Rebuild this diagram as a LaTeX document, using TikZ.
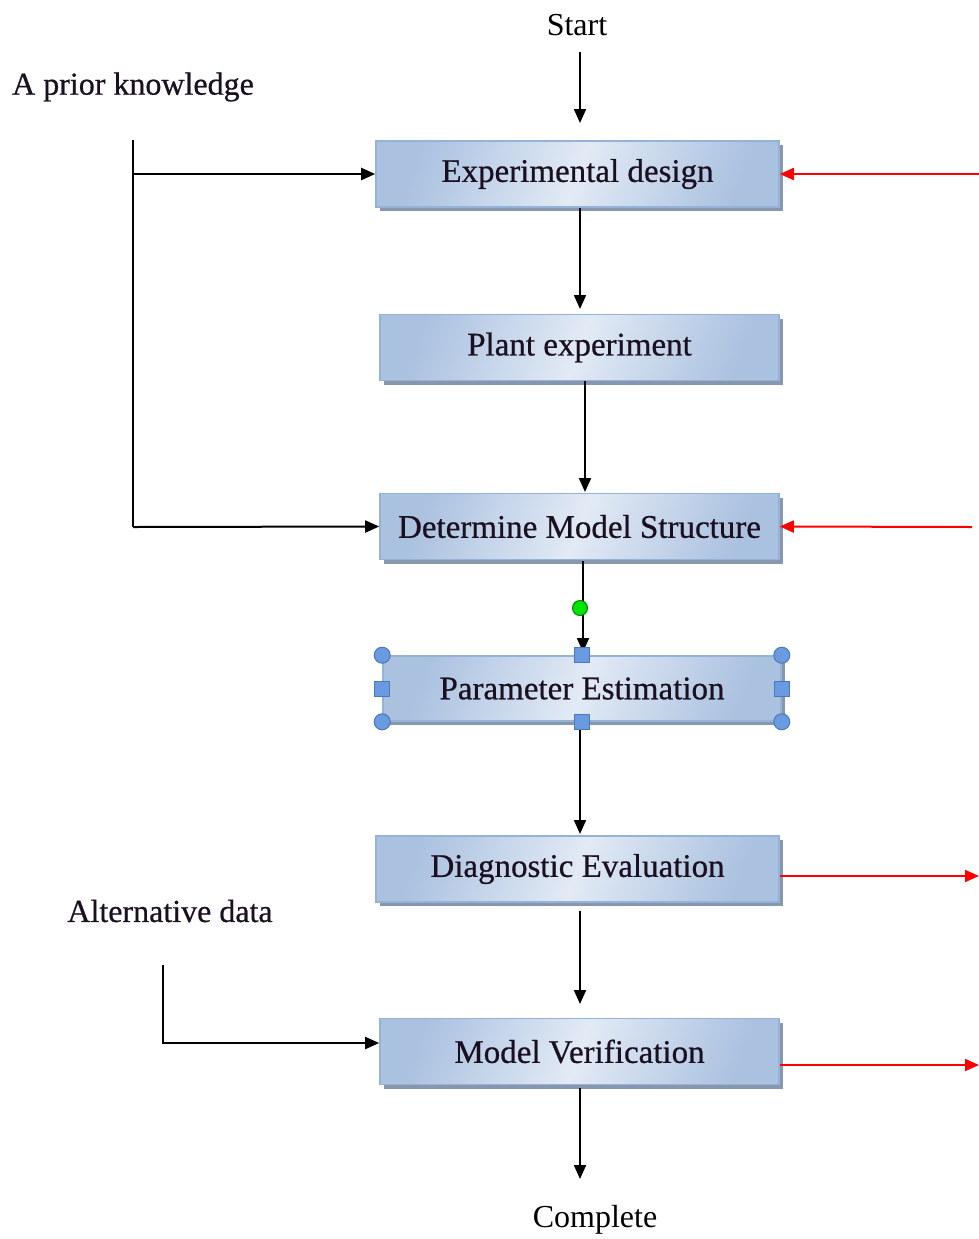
\documentclass[tikz,border=0pt]{standalone}
\usepackage{fontspec}
\setmainfont{Liberation Serif}
\newfontfamily\boxfont[FakeBold=0.6]{Liberation Serif}
\usetikzlibrary{arrows.meta,shadows}
\definecolor{boxedge}{HTML}{95B3D7}
\definecolor{boxdark}{HTML}{AAC1E0}
\definecolor{boxlight}{HTML}{E2EAF5}
\definecolor{shadowc}{HTML}{8797B0}
\definecolor{handle}{HTML}{6A9BE0}
\definecolor{handleedge}{HTML}{4A78B8}
\definecolor{txt}{HTML}{1A1020}
\tikzset{
  stepbox/.style={draw=boxedge, line width=0.8pt, minimum height=33pt,
    top color=boxdark, bottom color=boxdark, middle color=boxlight, shading angle=70,
    drop shadow={shadow xshift=2pt, shadow yshift=-2pt, fill=shadowc, opacity=1},
    font=\boxfont\fontsize{16.5}{18}\selectfont, text=txt, inner sep=0pt},
  lbl/.style={font=\boxfont\fontsize{16}{18}\selectfont, text=txt, inner sep=0pt},
  conn/.style={line width=1pt, -{Triangle[length=7pt,width=6pt]}},
  redconn/.style={line width=1pt, red, -{Triangle[length=7pt,width=6pt]}},
  plain/.style={line width=1pt},
  hcirc/.style={circle, fill=handle, draw=handleedge, line width=0.5pt, minimum size=8pt, inner sep=0pt},
  hsq/.style={rectangle, fill=handle, draw=handleedge, line width=0.5pt, minimum size=7.5pt, inner sep=0pt},
  gcirc/.style={circle, fill=green!90!black, draw=green!50!black, line width=0.5pt, minimum size=7.5pt, inner sep=0pt}
}
\begin{document}
\begin{tikzpicture}[x=0.5pt,y=-0.5pt]
\useasboundingbox (0,0) rectangle (979,1239);
% texts
\node[inner sep=0pt, font=\fontsize{16}{18}\selectfont] (start) at (577,25) {Start};
\node[inner sep=0pt, font=\fontsize{16}{18}\selectfont] (complete) at (595,1220) {Complete};
\node[lbl] (prior) at (133,87) {A prior knowledge};
\node[lbl] (alt) at (170,911) {Alternative data};
% boxes
\node[stepbox, minimum width=201.5pt] (ed) at (577.5,174) {Experimental design};
\node[stepbox, minimum width=199.5pt] (pe) at (579.5,347.5) {Plant experiment};
\node[stepbox, minimum width=199.5pt] (dms) at (579.5,526.5) {Determine Model Structure};
\node[stepbox, minimum width=199pt, minimum height=32.5pt] (par) at (582,688.5) {Parameter Estimation};
\node[stepbox, minimum width=201.5pt] (de) at (577.5,869) {Diagnostic Evaluation};
\node[stepbox, minimum width=199.5pt] (mv) at (579.5,1051.5) {Model Verification};
% coordinates
\coordinate (s0) at (580,52);
\coordinate (s1) at (580,123);
\coordinate (c1) at (580,1179);
\coordinate (pk0) at (133,140);
\coordinate (pk1) at (133,174);
\coordinate (pk2) at (133,527);
\coordinate (ad0) at (163,965);
\coordinate (ad1) at (163,1043);
\coordinate (r1) at (979,174);
\coordinate (r2) at (972,527);
\coordinate (r3) at (979,876);
\coordinate (r4) at (979,1065);
% main flow
\draw[conn] (s0) -- (s1);
\draw[conn] (ed.south -| 580,0) -- (580,309);
\draw[conn] (585,381) -- (585,492);
\draw[conn] (583,561) -- (583,652);
\draw[conn] (580,723) -- (580,834);
\draw[conn] (580,911) -- (580,1004);
\draw[conn] (580,1088) -- (c1);
% prior knowledge
\draw[plain] (pk0) -- (pk2);
\draw[conn] (pk1) -- (ed.west);
\draw[conn] (pk2) -- (dms.west);
% alternative data
\draw[conn] (ad0) -- (ad1) -- (mv.west |- ad1);
% red arrows
\draw[redconn] (r1) -- (ed.east);
\draw[redconn] (r2) -- (dms.east);
\draw[redconn] (de.east |- r3) -- (r3);
\draw[redconn] (mv.east |- r4) -- (r4);
% selection handles
\node[gcirc] (g) at (580,608) {};
\node[hcirc] (h1) at (par.north west) {};
\node[hcirc] (h2) at (par.north east) {};
\node[hcirc] (h3) at (par.south west) {};
\node[hcirc] (h4) at (par.south east) {};
\node[hsq] (h5) at (par.north) {};
\node[hsq] (h6) at (par.south) {};
\node[hsq] (h7) at (par.west) {};
\node[hsq] (h8) at (par.east) {};
\end{tikzpicture}
\end{document}
